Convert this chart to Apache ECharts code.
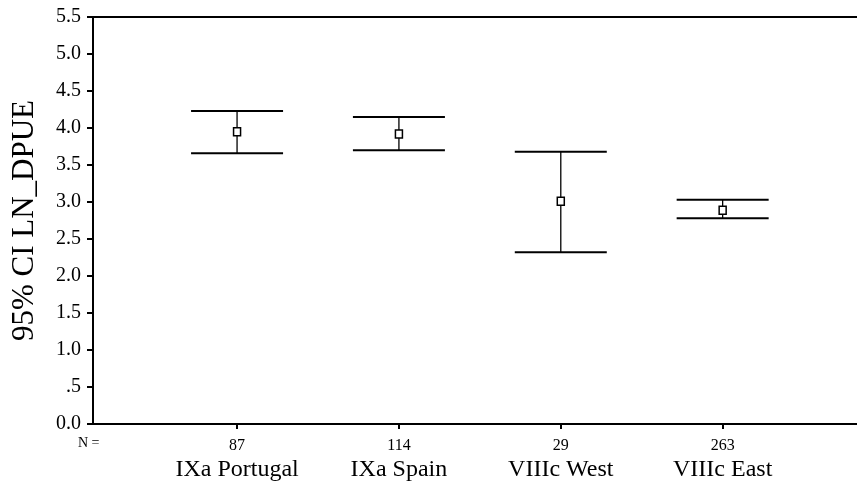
<!DOCTYPE html>
<html>
<head>
<meta charset="utf-8">
<script src="https://cdn.jsdelivr.net/npm/echarts@6/dist/echarts.min.js"></script>
<style>
html,body{margin:0;padding:0;background:#fff;}
#chart{width:857px;height:487px;}
</style>
</head>
<body>
<div id="chart"></div>
<script>
const categories = ['IXa Portugal', 'IXa Spain', 'VIIIc West', 'VIIIc East'];
const counts = [87, 114, 29, 263];
const means = [3.95, 3.92, 3.01, 2.89];
const lowers = [3.66, 3.70, 2.32, 2.78];
const uppers = [4.23, 4.15, 3.68, 3.03];
const yTicks = [0, 0.5, 1, 1.5, 2, 2.5, 3, 3.5, 4, 4.5, 5, 5.5];

const serif = '"Liberation Serif", "DejaVu Serif", serif';
const positions = categories.map((c, i) => i + 1);
const data = categories.map((c, i) => [positions[i], lowers[i], uppers[i], means[i]]);

const chart = echarts.init(document.getElementById('chart'), null, {renderer: 'canvas'});
chart.setOption({
  animation: false,
  backgroundColor: '#fff',
  grid: {left: 93, right: 0, top: 17, bottom: 63, containLabel: false, outerBoundsMode: 'none'},
  xAxis: [{
    type: 'value',
    min: 0.11,
    max: 4.83,
    splitLine: {show: false},
    axisLine: {show: true, onZero: false, lineStyle: {color: '#000', width: 2}},
    axisTick: {show: true, customValues: positions, length: 5, lineStyle: {color: '#000', width: 2}},
    axisLabel: {
      show: true,
      customValues: positions,
      margin: 11,
      fontFamily: serif,
      color: '#000',
      formatter: function (v) {
        const i = Math.round(v) - 1;
        return '{n|' + counts[i] + '}\n{c|' + categories[i] + '}';
      },
      rich: {
        n: {fontFamily: serif, fontSize: 16, color: '#000', lineHeight: 21},
        c: {fontFamily: serif, fontSize: 24, color: '#000', lineHeight: 28}
      }
    }
  }, {
    type: 'value',
    position: 'top',
    min: 0.11,
    max: 4.83,
    splitLine: {show: false},
    axisLine: {show: true, onZero: false, lineStyle: {color: '#000', width: 2}},
    axisTick: {show: false},
    axisLabel: {show: false}
  }],
  yAxis: {
    type: 'value',
    min: 0,
    max: 5.5,
    interval: 0.5,
    name: '95% CI LN_DPUE',
    nameLocation: 'middle',
    nameRotate: 90,
    nameGap: 53,
    nameTextStyle: {fontFamily: serif, fontSize: 31, color: '#000'},
    splitLine: {show: false},
    axisLine: {show: true, onZero: false, lineStyle: {color: '#000', width: 2}},
    axisTick: {show: true, length: 6, lineStyle: {color: '#000', width: 2}},
    axisLabel: {
      fontFamily: serif,
      fontSize: 20,
      color: '#000',
      margin: 12,
      formatter: function (v) {
        if (Math.abs(v - 0.5) < 1e-9) return '.5';
        return v.toFixed(1);
      }
    }
  },
  graphic: [{
    type: 'text',
    left: 78,
    top: 436,
    style: {text: 'N =', fontFamily: serif, fontSize: 14, fill: '#000'}
  }],
  series: [{
    type: 'custom',
    xAxisIndex: 0,
    yAxisIndex: 0,
    data: data,
    renderItem: function (params, api) {
      const x = api.value(0);
      const lo = api.coord([x, api.value(1)]);
      const hi = api.coord([x, api.value(2)]);
      const mid = api.coord([x, api.value(3)]);
      const half = 46;
      const stroke = {stroke: '#000', lineWidth: 2};
      return {
        type: 'group',
        children: [
          {type: 'line', shape: {x1: hi[0], y1: hi[1], x2: lo[0], y2: lo[1]}, style: {stroke: '#000', lineWidth: 1.3}},
          {type: 'line', shape: {x1: hi[0] - half, y1: hi[1], x2: hi[0] + half, y2: hi[1]}, style: stroke},
          {type: 'line', shape: {x1: lo[0] - half, y1: lo[1], x2: lo[0] + half, y2: lo[1]}, style: stroke},
          {type: 'rect', shape: {x: mid[0] - 3.5, y: mid[1] - 4, width: 7, height: 8}, style: {fill: '#fff', stroke: '#000', lineWidth: 1.5}}
        ]
      };
    }
  }]
});
</script>
</body>
</html>
